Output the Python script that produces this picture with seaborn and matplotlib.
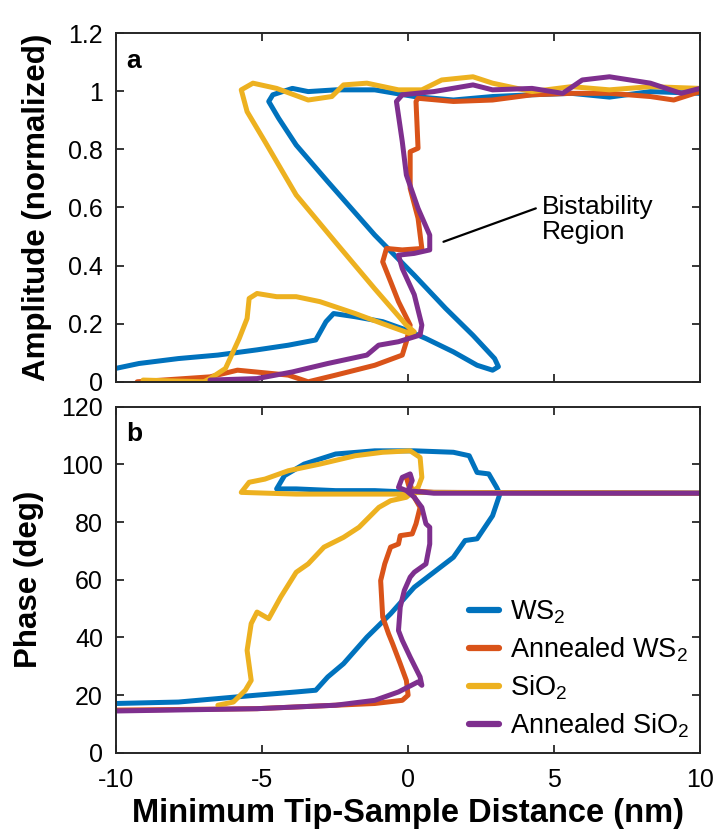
#!/usr/bin/env python3

# import libraries
import numpy as np
import matplotlib
matplotlib.use('Agg')
import matplotlib.pyplot as plt
import pandas as pd
import seaborn as sns

# sample names and colours (MATLAB default order)
samples = ['WS$_2$', 'Annealed WS$_2$', 'SiO$_2$', 'Annealed SiO$_2$']
colors = ['#0072BD', '#D95319', '#EDB120', '#7E2F8E']

# --- panel a: amplitude (normalized) vs distance (nm)
ws2_amp_x = [-10, -9.2, -7.85, -6.5, -5.16, -4.09, -3.15, -2.8, -2.54, -1.8, -0.86, -0.05, 0.62, 1.56,
             2.37, 2.9, 3.1, 2.97, 2.23, 1.29, 0.22, -1.13, -2.74, -3.82, -4.42, -4.76, -4.62, -3.95,
             -3.41, -2.47, -1.13, 0.22, 1.56, 2.9, 4.25, 5.6, 6.9, 8.3, 10]
ws2_amp_y = [0.046, 0.063, 0.08, 0.092, 0.11, 0.126, 0.144, 0.207, 0.235, 0.224, 0.207, 0.178, 0.149, 0.103,
             0.057, 0.04, 0.052, 0.08, 0.16, 0.253, 0.367, 0.505, 0.689, 0.815, 0.907, 0.965, 0.988, 1.01,
             0.999, 1.005, 1.005, 0.982, 0.97, 0.982, 0.988, 0.993, 0.98, 0.999, 0.993]

aws2_amp_x = [-9.26, -6.77, -5.83, -4.09, -3.41, -2.47, -1.13, -0.19, -0.05, 0.08, -0.32, -0.59, -0.86,
              -0.73, -0.19, 0.48, 0.35, 0.08, 0.08, 0.35, 0.28, 0.35, 1.56, 2.9, 4.25, 5.6, 6.9, 8.3, 9.1, 10]
aws2_amp_y = [0.0, 0.017, 0.04, 0.023, 0.0, 0.023, 0.057, 0.092, 0.138, 0.195, 0.276, 0.345, 0.413,
              0.459, 0.454, 0.459, 0.563, 0.666, 0.792, 0.804, 0.965, 0.976, 0.965, 0.97, 0.988, 0.993,
              0.993, 0.982, 0.97, 0.999]

sio2_amp_x = [-9.06, -6.98, -6.77, -6.24, -6.03, -5.77, -5.5, -5.43, -5.16, -4.49, -3.82, -3.01, -1.8,
              -0.86, 0.08, 0.22, -0.05, -1.13, -2.47, -3.82, -4.89, -5.5, -5.7, -5.3, -4.49, -3.41, -2.6,
              -2.2, -1.4, -0.32, 0.48, 1.16, 2.23, 2.9, 4.25, 5.6, 6.9, 8.3, 10]
sio2_amp_y = [0.006, 0.0, 0.011, 0.046, 0.092, 0.149, 0.218, 0.287, 0.304, 0.293, 0.293, 0.276, 0.235,
              0.2, 0.166, 0.172, 0.195, 0.32, 0.48, 0.643, 0.827, 0.93, 1.005, 1.028, 1.01, 0.97, 0.982,
              1.022, 1.028, 1.005, 1.005, 1.039, 1.05, 1.028, 0.999, 1.016, 1.005, 1.016, 1.01]

asio2_amp_x = [-6.77, -5.16, -3.95, -2.74, -1.4, -1.0, -0.32, 0.42, 0.48, 0.22, -0.19, -0.32, 0.22, 0.75,
               0.75, 0.35, -0.05, -0.19, -0.39, -0.19, 0.89, 2.23, 2.9, 4.25, 5.3, 5.97, 6.9, 8.3, 9.35, 10]
asio2_amp_y = [0.006, 0.011, 0.034, 0.063, 0.092, 0.126, 0.138, 0.161, 0.195, 0.3, 0.39, 0.436, 0.442,
               0.454, 0.505, 0.597, 0.712, 0.827, 0.965, 0.988, 0.999, 1.022, 1.005, 1.01, 0.993, 1.039,
               1.05, 1.028, 0.993, 1.01]

# --- panel b: phase (deg) vs distance (nm)
ws2_ph_x = [-10, -7.85, -5.16, -3.82, -3.15, -2.74, -2.2, -1.4, -0.59, 0.22, 0.89, 1.56, 1.96, 2.37,
            2.9, 3.15, 3.04, 2.77, 2.37, 2.1, 1.56, 0.22, -1.13, -2.47, -3.55, -4.22, -4.49, -3.82,
            -2.47, -1.13, 0.22, 10]
ws2_ph_y = [17.1, 17.6, 20, 21.1, 21.7, 26.3, 30.9, 40.1, 48.2, 57.4, 62.6, 67.8, 73.6, 74.2,
            82.2, 89.7, 92, 96.7, 97.2, 103, 104.2, 104.7, 104.7, 103.6, 100.1, 96.1, 91.5, 91.5,
            90.9, 90.9, 90.3, 90]

aws2_ph_x = [-10, -5.16, -2.47, -1.13, -0.19, 0.01, -0.05, -0.26, -0.52, -0.66, -0.86, -0.93, -0.79,
             -0.59, -0.32, -0.26, 0.15, 0.28, 0.42, 0.22, 0.08, -0.05, 0.08, 0.89, 10]
aws2_ph_y = [14.8, 15.3, 16.5, 17.1, 18.2, 20, 25.1, 30.9, 37.8, 41.3, 47.1, 59.7, 65.5,
             71.3, 72.4, 75.3, 75.9, 79.4, 85.1, 88.6, 93.2, 95.5, 90.9, 90.3, 90]

sio2_ph_x = [-6.5, -5.97, -5.56, -5.36, -5.5, -5.36, -5.16, -4.76, -4.35, -3.82, -3.41, -2.87, -2.2,
             -1.67, -0.99, -0.59, -0.05, 0.08, -1.13, -3.82, -5.7, -5.43, -4.89, -4.09, -3.01, -1.8,
             -0.86, 0.08, 0.42, 0.48, 0.35, 0.08, 10]
sio2_ph_y = [16.5, 17.6, 21.7, 25.1, 35.5, 44.8, 48.8, 46.5, 54, 62.6, 65.5, 71.3, 74.7,
             78.2, 85.1, 87.4, 88.6, 89.7, 89.7, 89.7, 90.3, 93.8, 94.9, 97.8, 100.1, 103,
             104.2, 104.7, 102.4, 95.5, 92, 90.3, 90]

asio2_ph_x = [-10, -5.16, -2.47, -1.13, -0.32, 0.35, 0.48, 0.42, 0.08, -0.19, -0.32, -0.26, -0.12, 0.08,
              0.22, 0.62, 0.75, 0.75, 0.62, 0.48, 0.22, -0.05, -0.32, -0.19, 0.08, 0.15, 0.01, 0.89, 10]
asio2_ph_y = [14.5, 15.3, 16.5, 18.2, 21.1, 24.6, 23.4, 26.3, 33.2, 39, 42.4, 50.5, 56.3, 60.9,
              62.6, 65.5, 72.4, 78.2, 79.4, 85.1, 88.6, 90.9, 92, 95.5, 96.7, 94.4, 90.9, 90, 90]

# build long tables for seaborn
def make_table(xs, ys):
    frames = []
    for name, x, y in zip(samples, xs, ys):
        frames.append(pd.DataFrame({'dist': x, 'val': y, 'sample': name}))
    return pd.concat(frames, ignore_index=True)

amp = make_table([ws2_amp_x, aws2_amp_x, sio2_amp_x, asio2_amp_x],
                 [ws2_amp_y, aws2_amp_y, sio2_amp_y, asio2_amp_y])
phase = make_table([ws2_ph_x, aws2_ph_x, sio2_ph_x, asio2_ph_x],
                   [ws2_ph_y, aws2_ph_y, sio2_ph_y, asio2_ph_y])

# style
sns.set_style('ticks')
plt.rcParams['font.family'] = ['Liberation Sans', 'DejaVu Sans']
plt.rcParams['mathtext.default'] = 'regular'
plt.rcParams['axes.linewidth'] = 1.4
plt.rcParams['axes.edgecolor'] = '#262626'
plt.rcParams['text.color'] = 'black'
plt.rcParams['axes.labelcolor'] = 'black'

fig = plt.figure(figsize=(7.18, 8.30), dpi=100)
ax1 = fig.add_axes([0.161, 0.540, 0.814, 0.420])
ax2 = fig.add_axes([0.161, 0.093, 0.814, 0.417])

pal = dict(zip(samples, colors))
sns.lineplot(data=amp, x='dist', y='val', hue='sample', hue_order=samples, palette=pal,
             sort=False, estimator=None, lw=3.6, ax=ax1, legend=False)
sns.lineplot(data=phase, x='dist', y='val', hue='sample', hue_order=samples, palette=pal,
             sort=False, estimator=None, lw=3.6, ax=ax2)

# axes set-up (matlab-like box with inward ticks)
for ax in (ax1, ax2):
    ax.set_xlim(-10, 10)
    ax.set_xticks([-10, -5, 0, 5, 10])
    ax.tick_params(direction='in', top=True, right=True, length=6, width=1.3,
                   labelsize=18, colors='#262626', labelcolor='black')
    ax.tick_params(axis='y', pad=9)
    ax.tick_params(axis='x', pad=11)
    for s in ax.spines.values():
        s.set_visible(True)

ax1.set_ylim(0, 1.2)
ax1.set_yticks([0, 0.2, 0.4, 0.6, 0.8, 1.0, 1.2])
ax1.set_yticklabels(['0', '0.2', '0.4', '0.6', '0.8', '1', '1.2'])
ax1.set_xticklabels([])
ax1.set_xlabel('')
ax1.set_ylabel('Amplitude (normalized)', fontsize=22.5, fontweight='bold')

ax2.set_ylim(0, 120)
ax2.set_yticks([0, 20, 40, 60, 80, 100, 120])
ax2.set_xticklabels(['-10', '-5', '0', '5', '10'])
ax2.set_xlabel('Minimum Tip-Sample Distance (nm)', fontsize=23.5, fontweight='bold', labelpad=4)
ax2.set_ylabel('Phase (deg)', fontsize=22.5, fontweight='bold')

# y label positions
ax1.yaxis.set_label_coords(-0.108, 0.5)
ax2.yaxis.set_label_coords(-0.122, 0.5)

# panel letters
ax1.text(0.018, 0.955, 'a', transform=ax1.transAxes, fontsize=19, fontweight='bold', va='top')
ax2.text(0.018, 0.955, 'b', transform=ax2.transAxes, fontsize=19, fontweight='bold', va='top')

# annotation
ax1.plot([1.22, 4.38], [0.482, 0.597], color='black', lw=1.6)
ax1.text(4.6, 0.56, 'Bistability\nRegion', fontsize=19, va='center', ha='left', linespacing=1.05)

# legend
leg = ax2.legend(loc='lower right', frameon=False, fontsize=19.5, handlelength=1.1,
                 handletextpad=0.4, labelspacing=0.35, borderaxespad=0.0,
                 bbox_to_anchor=(1.0, 0.005))
for h in leg.get_lines():
    h.set_linewidth(4.5)

plt.savefig('out.png', dpi=100)
plt.close()
